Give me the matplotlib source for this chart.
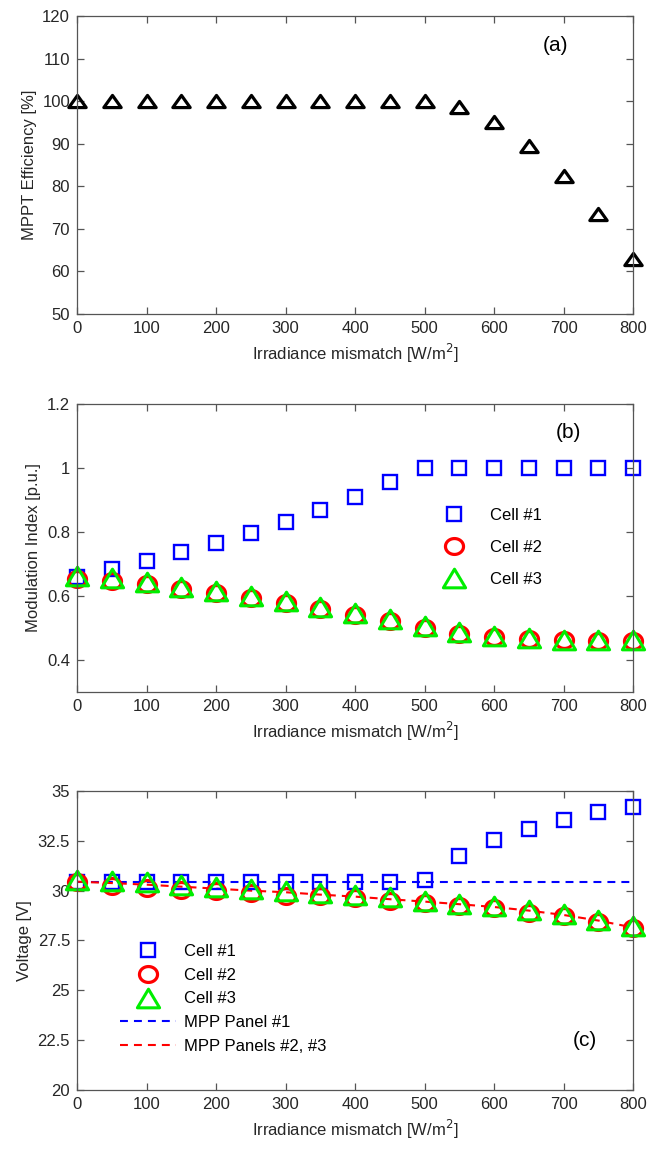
import matplotlib
matplotlib.use("Agg")
import matplotlib.pyplot as plt
import numpy as np
from matplotlib.path import Path

plt.rcParams['font.family'] = ['Liberation Sans', 'DejaVu Sans']

x = [0, 50, 100, 150, 200, 250, 300, 350, 400, 450, 500, 550, 600, 650, 700, 750, 800]

eff = [100, 100, 100, 100, 100, 100, 100, 100, 100, 100, 100, 98.7, 95.0, 89.4, 82.3, 73.6, 63.0]

mod_cell1 = [0.660, 0.685, 0.708, 0.736, 0.766, 0.797, 0.831, 0.868, 0.909, 0.955, 1.0, 1.0, 1.0, 1.0, 1.0, 1.0, 1.0]
mod_cell2 = [0.654, 0.648, 0.639, 0.622, 0.609, 0.594, 0.578, 0.560, 0.542, 0.521, 0.500, 0.482, 0.472, 0.466, 0.461, 0.459, 0.459]
mod_cell3 = [0.662, 0.655, 0.645, 0.628, 0.615, 0.600, 0.583, 0.566, 0.548, 0.528, 0.507, 0.489, 0.476, 0.468, 0.464, 0.462, 0.462]

v_cell1 = [30.45, 30.45, 30.45, 30.45, 30.45, 30.45, 30.45, 30.45, 30.45, 30.45, 30.55, 31.73, 32.55, 33.10, 33.56, 33.92, 34.20]
v_cell2 = [30.42, 30.25, 30.13, 30.05, 29.97, 29.87, 29.75, 29.71, 29.63, 29.50, 29.36, 29.24, 29.12, 28.90, 28.74, 28.43, 28.15]
v_cell3 = [30.54, 30.50, 30.42, 30.30, 30.17, 30.08, 30.00, 29.87, 29.78, 29.70, 29.50, 29.33, 29.24, 29.02, 28.82, 28.52, 28.24]
mpp_panel1 = [30.42] * 17
mpp_panels23 = [30.45, 30.38, 30.30, 30.20, 30.10, 30.00, 29.92, 29.80, 29.70, 29.57, 29.45, 29.32, 29.18, 29.00, 28.78, 28.50, 28.15]

xticks = [0, 100, 200, 300, 400, 500, 600, 700, 800]
yticks_a = [50, 60, 70, 80, 90, 100, 110, 120]
yticks_b = [0.4, 0.6, 0.8, 1.0, 1.2]
yticklabels_b = ['0.4', '0.6', '0.8', '1', '1.2']
yticks_c = [20, 22.5, 25, 27.5, 30, 32.5, 35]
yticklabels_c = ['20', '22.5', '25', '27.5', '30', '32.5', '35']

FS = 12
GRAY = '#555555'
TXT = '#262626'


def tri_marker(ratio):
    return Path([(-1, -ratio), (1, -ratio), (0, ratio), (-1, -ratio)],
                [Path.MOVETO, Path.LINETO, Path.LINETO, Path.CLOSEPOLY])


def ellipse_marker(ratio):
    t = np.linspace(0, 2 * np.pi, 65)
    v = np.column_stack([np.cos(t), ratio * np.sin(t)])
    codes = [Path.MOVETO] + [Path.LINETO] * 63 + [Path.CLOSEPOLY]
    return Path(v, codes)


TRI_A = tri_marker(0.70)
TRI = tri_marker(0.84)
ELL = ellipse_marker(0.88)

fig = plt.figure(figsize=(6.56, 11.51), dpi=100)
left, width = 0.1174, 0.8476
axA = fig.add_axes([left, 0.7272, width, 0.2589])
axB = fig.add_axes([left, 0.3988, width, 0.2502])
axC = fig.add_axes([left, 0.0530, width, 0.2598])


def style(ax):
    for s in ax.spines.values():
        s.set_color(GRAY)
        s.set_linewidth(0.9)
    ax.tick_params(direction='in', top=True, right=True, length=5, width=0.9,
                   color=GRAY, labelsize=FS, labelcolor=TXT, pad=5)
    ax.set_xlim(0, 800)
    ax.set_xticks(xticks)
    ax.set_xlabel('Irradiance mismatch [W/m$^2$]', fontsize=FS, color=TXT, labelpad=4)


sq_kw = dict(linestyle='none', marker='s', ms=9.5, mfc='none', mec='#0000ff', mew=1.7, clip_on=False)
ci_kw = dict(linestyle='none', marker=ELL, ms=13, mfc='none', mec='#ff0000', mew=2.3, clip_on=False)
tr_kw = dict(linestyle='none', marker=TRI, ms=16, mfc='none', mec='#00ee00', mew=2.2, clip_on=False)

# (a)
axA.plot(x, eff, linestyle='none', marker=TRI_A, ms=12.5, mfc='none', mec='black', mew=2.3, clip_on=False)
style(axA)
axA.set_ylim(50, 120)
axA.set_yticks(yticks_a)
axA.set_ylabel('MPPT Efficiency [%]', fontsize=FS, color=TXT)
axA.text(0.86, 0.90, '(a)', transform=axA.transAxes, fontsize=FS + 3, ha='center', va='center')

# (b)
axB.plot(x, mod_cell1, label='Cell #1', **sq_kw)
axB.plot(x, mod_cell2, label='Cell #2', **ci_kw)
axB.plot(x, mod_cell3, label='Cell #3', **tr_kw)
style(axB)
axB.set_ylim(0.3, 1.2)
axB.set_yticks(yticks_b)
axB.set_yticklabels(yticklabels_b)
axB.set_ylabel('Modulation Index [p.u.]', fontsize=FS, color=TXT)
axB.text(0.883, 0.90, '(b)', transform=axB.transAxes, fontsize=FS + 3, ha='center', va='center')
axB.legend(loc='upper left', bbox_to_anchor=(0.628, 0.638), frameon=False, fontsize=FS,
           handlelength=3.35, handletextpad=0.5, labelspacing=1.0, borderpad=0, borderaxespad=0)

# (c)
axC.plot(x, mpp_panel1, linestyle=(0, (3.8, 2.9)), color='#0000ff', lw=1.5, label='MPP Panel #1')
axC.plot(x, mpp_panels23, linestyle=(0, (3.8, 2.9)), color='#ff0000', lw=1.5, label='MPP Panels #2, #3')
axC.plot(x, v_cell1, label='Cell #1', **sq_kw)
axC.plot(x, v_cell2, label='Cell #2', **ci_kw)
axC.plot(x, v_cell3, label='Cell #3', **tr_kw)
style(axC)
axC.set_ylim(20, 35)
axC.set_yticks(yticks_c)
axC.set_yticklabels(yticklabels_c)
axC.set_ylabel('Voltage [V]', fontsize=FS, color=TXT)
axC.text(0.914, 0.167, '(c)', transform=axC.transAxes, fontsize=FS + 3, ha='center', va='center')
handles, labels = axC.get_legend_handles_labels()
order = [2, 3, 4, 0, 1]
axC.legend([handles[i] for i in order], [labels[i] for i in order],
           loc='upper left', bbox_to_anchor=(0.0773, 0.488), frameon=False, fontsize=FS,
           handlelength=3.35, handletextpad=0.5, labelspacing=0.52, borderpad=0, borderaxespad=0)

fig.savefig('out.png', dpi=100)
